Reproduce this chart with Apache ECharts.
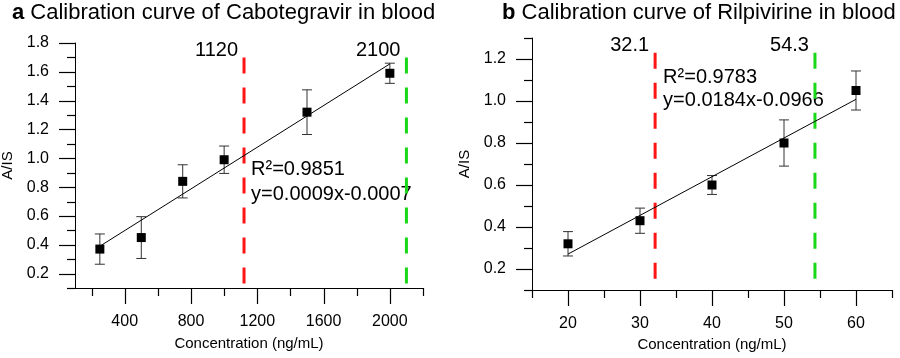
<!DOCTYPE html>
<html>
<head>
<meta charset="utf-8">
<script src="https://cdn.jsdelivr.net/npm/echarts@6.0.0/dist/echarts.min.js"></script>
<style>
html, body { margin: 0; padding: 0; background: #fff; }
#wrap { position: relative; width: 900px; height: 358px; }
#panelA { position: absolute; left: 0; top: 0; width: 450px; height: 358px; }
#panelB { position: absolute; left: 450px; top: 0; width: 450px; height: 358px; }
</style>
</head>
<body>
<div id="wrap">
  <div id="panelA"></div>
  <div id="panelB"></div>
</div>
<script>
// panel a - Cabotegravir
var cabConc = [250, 500, 750, 1000, 1500, 2000];
var cabRatio = [0.37, 0.45, 0.84, 0.99, 1.32, 1.59];
var cabSd = [0.105, 0.145, 0.115, 0.095, 0.155, 0.07];
var cabFitX = [250, 2000];
var cabFitY = [0.39, 1.655];
var cabLimits = [1120, 2100];
var cabLimitSpan = [1.7, 0.1];
var cabEquation = ['R²=0.9851', 'y=0.0009x-0.0007'];
var cabXRange = [100, 2200];
var cabYRange = [0.1, 1.8];
var cabXLabels = [400, 800, 1200, 1600, 2000];
var cabXMinor = [200, 600, 1000, 1400, 1800, 2200];
var cabYLabels = [0.2, 0.4, 0.6, 0.8, 1.0, 1.2, 1.4, 1.6, 1.8];
var cabYMinor = [0.1, 0.3, 0.5, 0.7, 0.9, 1.1, 1.3, 1.5, 1.7];

// panel b - Rilpivirine
var rilConc = [20, 30, 40, 50, 60];
var rilRatio = [0.32, 0.43, 0.60, 0.80, 1.05];
var rilSd = [0.058, 0.06, 0.045, 0.11, 0.093];
var rilFitX = [20, 60];
var rilFitY = [0.271, 1.008];
var rilLimits = [32.1, 54.3];
var rilLimitSpan = [1.23, 0.1];
var rilEquation = ['R²=0.9783', 'y=0.0184x-0.0966'];
var rilXRange = [15, 65];
var rilYRange = [0.1, 1.3];
var rilXLabels = [20, 30, 40, 50, 60];
var rilXMinor = [15, 25, 35, 45, 55, 65];
var rilYLabels = [0.2, 0.4, 0.6, 0.8, 1.0, 1.2];
var rilYMinor = [0.1, 0.3, 0.5, 0.7, 0.9, 1.1, 1.3];

var FONT = '"Liberation Sans", Arial, sans-serif';
var limitColors = ['#ff1414', '#18d818'];

// outward tick marks, placed through the axis scales
// kind: 0 x major, 1 x minor, 2 y major, 3 y minor
function tickSeries(xr, yr, xMaj, xMin, yMaj, yMin) {
    var rows = [];
    xMaj.forEach(function (v) { rows.push([v, yr[0], 0]); });
    xMin.forEach(function (v) { rows.push([v, yr[0], 1]); });
    yMaj.forEach(function (v) { rows.push([xr[0], v, 2]); });
    yMin.forEach(function (v) { rows.push([xr[0], v, 3]); });
    return {
        type: 'custom', silent: true, clip: false, z: 6,
        data: rows, encode: {x: 0, y: 1},
        renderItem: function (params, api) {
            var p = api.coord([api.value(0), api.value(1)]);
            var kind = api.value(2);
            var len = (kind === 0 || kind === 2) ? 16 : 8;
            var shape;
            if (kind < 2) {
                var x = Math.round(p[0]) + 0.5;
                shape = {x1: x, y1: p[1], x2: x, y2: p[1] + len};
            } else {
                var y = Math.round(p[1]) + 0.5;
                shape = {x1: p[0], y1: y, x2: p[0] - len, y2: y};
            }
            return {type: 'line', shape: shape, style: {stroke: '#000', lineWidth: 1.2}};
        }
    };
}

function errorBar(params, api) {
    var x = api.value(0);
    var lo = api.coord([x, api.value(1)]);
    var hi = api.coord([x, api.value(2)]);
    var w = 5;
    var st = {stroke: '#333', lineWidth: 1, fill: null};
    return {type: 'group', children: [
        {type: 'line', shape: {x1: lo[0], y1: lo[1], x2: hi[0], y2: hi[1]}, style: st},
        {type: 'line', shape: {x1: lo[0] - w, y1: lo[1], x2: lo[0] + w, y2: lo[1]}, style: st},
        {type: 'line', shape: {x1: hi[0] - w, y1: hi[1], x2: hi[0] + w, y2: hi[1]}, style: st}
    ]};
}

function buildPanel(p) {
    var bars = p.conc.map(function (c, i) { return [c, p.ratio[i] - p.sd[i], p.ratio[i] + p.sd[i]]; });
    var pts = p.conc.map(function (c, i) { return [c, p.ratio[i]]; });
    var fit = p.fitX.map(function (c, i) { return [c, p.fitY[i]]; });

    var series = [tickSeries(p.xRange, p.yRange, p.xLabels, p.xMinor, p.yLabels, p.yMinor)];
    p.limits.forEach(function (v, i) {
        series.push({
            type: 'line', symbol: 'none', silent: true,
            data: [[v, p.span[0]], [v, p.span[1]]],
            lineStyle: {color: limitColors[i], width: 3, type: [16, 14]}
        });
    });
    series.push({
        type: 'scatter', symbolSize: 0, silent: true, itemStyle: {opacity: 1},
        data: p.limits.map(function (v) { return [v, p.span[0]]; }),
        label: {show: true, position: 'left', distance: 6, offset: [0, -7],
            fontSize: 20, color: '#000', fontFamily: FONT,
            formatter: function (d) { return String(d.value[0]); }}
    });
    // regression text hangs off the top of the lower-limit line
    series.push({
        type: 'scatter', symbolSize: 0, silent: true, itemStyle: {opacity: 1},
        data: [[p.limits[0], p.span[0]]],
        label: {show: true, position: p.eqPos, align: 'left', verticalAlign: 'top',
            fontSize: 20, lineHeight: p.eqLine, color: '#000', fontFamily: FONT,
            formatter: p.equation.join('\n')}
    });
    series.push({type: 'custom', renderItem: errorBar, encode: {x: 0, y: [1, 2]}, data: bars, z: 3});
    series.push({type: 'line', symbol: 'none', data: fit, lineStyle: {color: '#000', width: 1}, z: 4});
    series.push({type: 'scatter', symbol: 'rect', symbolSize: 9,
        itemStyle: {color: '#000', opacity: 1}, data: pts, z: 5});

    return {
        animation: false,
        title: {text: '{b|' + p.letter + '} ' + p.title, left: p.titleLeft, top: 2, padding: 0,
            textStyle: {fontSize: 22, fontWeight: 'normal', color: '#000', fontFamily: FONT,
                rich: {b: {fontSize: 22, fontWeight: 'bold', color: '#000', fontFamily: FONT}}}},
        grid: {left: p.grid[0], top: p.grid[1], width: p.grid[2], height: p.grid[3], outerBoundsMode: 'none'},
        xAxis: {
            type: 'value', min: p.xRange[0], max: p.xRange[1],
            axisLine: {show: true, onZero: false, lineStyle: {color: '#000', width: 1}},
            axisTick: {show: false}, splitLine: {show: false},
            axisLabel: {customValues: p.xLabels, margin: 26, fontSize: 16, color: '#000', fontFamily: FONT,
                formatter: function (v) { return String(v); }},
            name: 'Concentration (ng/mL)', nameLocation: 'middle', nameGap: p.xGap,
            nameTextStyle: {fontSize: 15, color: '#000', fontFamily: FONT}
        },
        yAxis: {
            type: 'value', min: p.yRange[0], max: p.yRange[1],
            axisLine: {show: true, onZero: false, lineStyle: {color: '#000', width: 1}},
            axisTick: {show: false}, splitLine: {show: false},
            axisLabel: {customValues: p.yLabels, margin: 26, fontSize: 16, color: '#000', fontFamily: FONT,
                formatter: function (v) { return v.toFixed(1); }},
            name: 'A/IS', nameLocation: 'middle', nameGap: 58, nameRotate: 90,
            nameTextStyle: {fontSize: 15, color: '#000', fontFamily: FONT}
        },
        series: series
    };
}

var chartA = echarts.init(document.getElementById('panelA'));
chartA.setOption(buildPanel({
    letter: 'a', title: 'Calibration curve of Cabotegravir in blood', titleLeft: 12,
    grid: [75, 43, 348, 245], xGap: 48,
    conc: cabConc, ratio: cabRatio, sd: cabSd, fitX: cabFitX, fitY: cabFitY,
    limits: cabLimits, span: cabLimitSpan, equation: cabEquation, eqPos: [7, 100], eqLine: 25,
    xRange: cabXRange, yRange: cabYRange, xLabels: cabXLabels, xMinor: cabXMinor,
    yLabels: cabYLabels, yMinor: cabYMinor
}));

var chartB = echarts.init(document.getElementById('panelB'));
chartB.setOption(buildPanel({
    letter: 'b', title: 'Calibration curve of Rilpivirine in blood', titleLeft: 52,
    grid: [82, 38, 360, 252], xGap: 46,
    conc: rilConc, ratio: rilRatio, sd: rilSd, fitX: rilFitX, fitY: rilFitY,
    limits: rilLimits, span: rilLimitSpan, equation: rilEquation, eqPos: [8, 13], eqLine: 23,
    xRange: rilXRange, yRange: rilYRange, xLabels: rilXLabels, xMinor: rilXMinor,
    yLabels: rilYLabels, yMinor: rilYMinor
}));
</script>
</body>
</html>
